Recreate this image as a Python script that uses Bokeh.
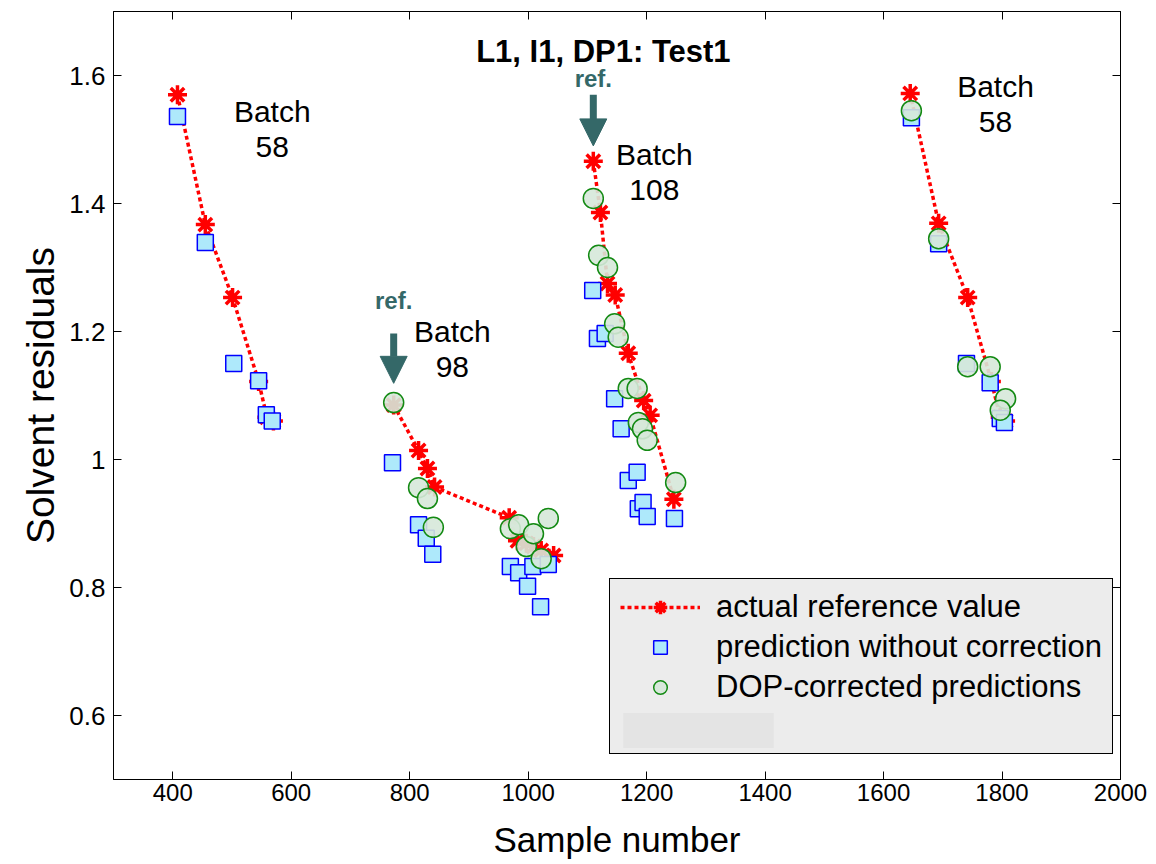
import numpy as np
from bokeh.plotting import figure
from bokeh.models import (Range1d, FixedTicker, LinearAxis, Legend, LegendItem,
                          Label, Arrow, NormalHead, ColumnDataSource)
from bokeh.core.properties import value
from bokeh.embed import file_html
from bokeh.resources import INLINE

FONT = "Liberation Sans"

# ---------------- data ----------------
# actual reference values (red stars, dotted line), per batch segment
ref_b58a_x = [408, 455, 501, 545, 559, 570]
ref_b58a_y = [1.570, 1.367, 1.253, 1.122, 1.066, 1.060]
ref_b98_x = [773, 815, 830, 842, 968, 982, 997, 1009, 1022, 1043]
ref_b98_y = [1.085, 1.014, 0.986, 0.957, 0.909, 0.873, 0.869, 0.864, 0.858, 0.850]
ref_b108_x = [1110, 1122, 1134, 1147, 1169, 1195, 1206, 1246]
ref_b108_y = [1.466, 1.386, 1.275, 1.257, 1.166, 1.092, 1.069, 0.938]
ref_b58b_x = [1645, 1693, 1742, 1782, 1797, 1806]
ref_b58b_y = [1.572, 1.369, 1.253, 1.122, 1.066, 1.060]

# prediction without correction (blue squares)
raw_b58a_x = [408, 455, 503, 545, 558, 568]
raw_b58a_y = [1.536, 1.339, 1.150, 1.123, 1.070, 1.060]
raw_b98_x = [771, 815, 828, 839, 970, 984, 999, 1008, 1021, 1034]
raw_b98_y = [0.995, 0.898, 0.877, 0.852, 0.833, 0.823, 0.802, 0.833, 0.770, 0.836]
raw_b108_x = [1109, 1117, 1130, 1146, 1157, 1169, 1184, 1186, 1194, 1201, 1247]
raw_b108_y = [1.264, 1.189, 1.197, 1.095, 1.048, 0.967, 0.980, 0.923, 0.933, 0.911, 0.908]
raw_b58b_x = [1647, 1693, 1740, 1780, 1797, 1804]
raw_b58b_y = [1.534, 1.337, 1.150, 1.120, 1.064, 1.058]

# DOP-corrected predictions (green circles)
dop_b98_x = [773, 815, 830, 840, 970, 984, 997, 1009, 1022, 1034]
dop_b98_y = [1.089, 0.956, 0.939, 0.894, 0.892, 0.898, 0.864, 0.884, 0.845, 0.908]
dop_b108_x = [1110, 1119, 1134, 1146, 1152, 1169, 1184, 1186, 1193, 1201, 1249]
dop_b108_y = [1.408, 1.319, 1.300, 1.212, 1.191, 1.111, 1.111, 1.058, 1.048, 1.030, 0.964]
dop_b58b_x = [1647, 1693, 1742, 1780, 1806, 1797]
dop_b58b_y = [1.545, 1.345, 1.145, 1.145, 1.095, 1.077]

# batch labels
batch_names = ["58", "98", "108", "58"]
batch_lab_x = [568, 872, 1213, 1789]
batch_lab_y = [1.544, 1.200, 1.476, 1.583]

# "ref." arrows (sample where reference was taken)
refarrow_x = [773, 1110]
refarrow_top = [1.197, 1.570]
refarrow_tip = [1.119, 1.490]
reflabel_y = [1.248, 1.595]

x_ticks = [400, 600, 800, 1000, 1200, 1400, 1600, 1800, 2000]
y_ticks = [0.6, 0.8, 1.0, 1.2, 1.4, 1.6]
y_tick_labels = {0.6: "0.6", 0.8: "0.8", 1.0: "1", 1.2: "1.2", 1.4: "1.4", 1.6: "1.6"}


def join(*segs):
    out = []
    for i, s in enumerate(segs):
        if i:
            out.append(np.nan)
        out.extend(s)
    return out


ref_x = join(ref_b58a_x, ref_b98_x, ref_b108_x, ref_b58b_x)
ref_y = join(ref_b58a_y, ref_b98_y, ref_b108_y, ref_b58b_y)
raw_x = raw_b58a_x + raw_b98_x + raw_b108_x + raw_b58b_x
raw_y = raw_b58a_y + raw_b98_y + raw_b108_y + raw_b58b_y
dop_x = dop_b98_x + dop_b108_x + dop_b58b_x
dop_y = dop_b98_y + dop_b108_y + dop_b58b_y

# ---------------- figure ----------------
p = figure(width=1156, height=864, output_backend="svg", toolbar_location=None,
           x_range=Range1d(300, 2000), y_range=Range1d(0.5, 1.7),
           min_border_left=113, min_border_right=36, min_border_top=11,
           min_border_bottom=85)
p.background_fill_color = "white"
p.border_fill_color = "white"
p.outline_line_color = "black"
p.outline_line_width = 1
p.grid.visible = False

for ax in p.xaxis:
    ax.ticker = FixedTicker(ticks=x_ticks)
for ax in p.yaxis:
    ax.ticker = FixedTicker(ticks=y_ticks)
    ax.major_label_overrides = y_tick_labels

for ax in list(p.xaxis) + list(p.yaxis):
    ax.major_tick_in = 8
    ax.major_tick_out = 0
    ax.minor_tick_line_color = None
    ax.axis_line_color = "black"
    ax.major_tick_line_color = "black"
    ax.major_label_text_font = FONT
    ax.major_label_text_color = "black"
    ax.axis_label_text_font = FONT
    ax.axis_label_text_font_style = "normal"
    ax.axis_label_text_color = "black"

p.xaxis.major_label_text_font_size = "24px"
p.yaxis.major_label_text_font_size = "26px"
p.xaxis.axis_label = "Sample number"
p.xaxis.axis_label_text_font_size = "35px"
p.xaxis.major_label_standoff = 4
p.xaxis.axis_label_standoff = 16
p.yaxis.axis_label = "Solvent residuals"
p.yaxis.axis_label_text_font_size = "39px"
p.yaxis.major_label_standoff = 8
p.yaxis.axis_label_standoff = 4

# mirrored tick marks on top and right
top_ax = LinearAxis(ticker=FixedTicker(ticks=x_ticks), major_tick_in=8, major_tick_out=0,
                    minor_tick_line_color=None, major_label_text_font_size="0px",
                    major_label_standoff=0, axis_line_color="black")
top_ax.major_label_overrides = {t: "" for t in x_ticks}
right_ax = LinearAxis(ticker=FixedTicker(ticks=y_ticks), major_tick_in=8, major_tick_out=0,
                      minor_tick_line_color=None, major_label_text_font_size="0px",
                      major_label_standoff=0, axis_line_color="black")
right_ax.major_label_overrides = {t: "" for t in y_ticks}
p.add_layout(top_ax, "above")
p.add_layout(right_ax, "right")

# ---------------- glyphs ----------------
ref_line = p.line(ref_x, ref_y, line_color="#ff0000", line_width=3.5, line_dash="4 3")
ref_pts = p.scatter(ref_x, ref_y, marker="asterisk", size=19, line_color="#ff0000",
                    line_width=3.5)
raw_pts = p.scatter(raw_x, raw_y, marker="square", size=16, fill_color="#aee9fb",
                    line_color="#0000ff", line_width=1.5)
dop_pts = p.scatter(dop_x, dop_y, marker="circle", size=20, fill_color="#d6e8d9",
                    fill_alpha=0.9, line_color="#138a13", line_width=1.5)
dummy = p.scatter([np.nan], [np.nan], marker="square", size=1, fill_alpha=0, line_alpha=0)

# batch labels
lab_src = ColumnDataSource(dict(
    x=batch_lab_x + batch_lab_x,
    y=batch_lab_y + [v - 0.055 for v in batch_lab_y],
    t=["Batch"] * len(batch_lab_x) + batch_names))
p.text("x", "y", text="t", source=lab_src, text_font=value(FONT), text_font_size="30px",
       text_align="center", text_baseline="alphabetic", text_color="black")

# ref. arrows
TEAL = "#346868"
for ax_, top_, tip_, ly in zip(refarrow_x, refarrow_top, refarrow_tip, reflabel_y):
    p.add_layout(Arrow(x_start=ax_, y_start=top_, x_end=ax_, y_end=tip_,
                       line_color=TEAL, line_width=7,
                       end=NormalHead(size=27, fill_color=TEAL, line_color=TEAL, line_width=1)))
    p.add_layout(Label(x=ax_, y=ly, text="ref.", text_font=FONT,
                       text_font_size="24px", text_font_style="bold", text_color=TEAL,
                       text_align="center", text_baseline="alphabetic"))

# title inside the frame
p.add_layout(Label(x=1127, y=1.6375, text="L1, I1, DP1: Test1", text_font=FONT,
                   text_font_size="31px", text_font_style="bold", text_color="black",
                   text_align="center", text_baseline="alphabetic"))

# ---------------- legend ----------------
legend = Legend(items=[
    LegendItem(label="actual reference value", renderers=[ref_line, ref_pts]),
    LegendItem(label="prediction without correction", renderers=[raw_pts]),
    LegendItem(label="DOP-corrected predictions", renderers=[dop_pts]),
    LegendItem(label=" ", renderers=[dummy]),
], location=(496, 25), orientation="vertical",
    background_fill_color="#ececec", background_fill_alpha=1,
    border_line_color="black", border_line_width=1, border_line_alpha=1,
    label_text_font=FONT, label_text_font_size="31px", label_text_color="black",
    glyph_width=80, glyph_height=34, label_height=34, label_standoff=16,
    padding=10, spacing=4, margin=0)
p.add_layout(legend)

# light grey inset inside the legend box (an empty legend slot)
inset = p.quad(left=[1161], right=[1414], bottom=[0.548], top=[0.603],
               fill_color="#e4e4e4", line_alpha=0)
legend2 = Legend(items=[LegendItem(label=" ", renderers=[inset])],
                 location=(491, 27), orientation="vertical",
                 background_fill_alpha=0, border_line_alpha=0,
                 label_text_font_size="1px", label_height=1, label_standoff=0,
                 glyph_width=188, glyph_height=44, padding=0, spacing=0, margin=0)
p.add_layout(legend2)

open("out.html", "w").write(file_html(p, INLINE))
